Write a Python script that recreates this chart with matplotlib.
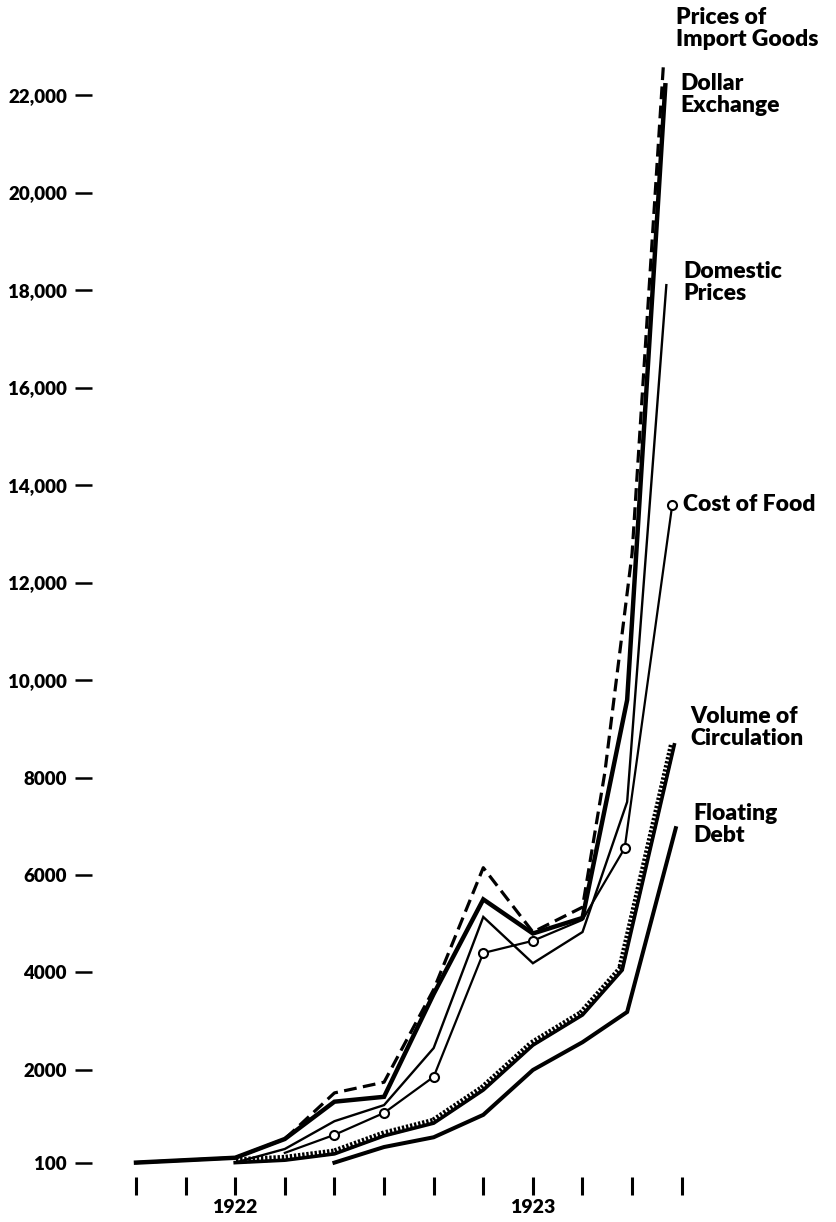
import matplotlib
matplotlib.use('Agg')
import matplotlib.pyplot as plt
import matplotlib.patheffects as pe

plt.rcParams['font.family'] = ['Lato', 'DejaVu Sans']

# positions des mois (0 = janvier 1922 ... ), valeurs indices
tick_pos = list(range(12))
tick_labels = ['', '', '1922', '', '', '', '', '', '1923', '', '', '']
y_ticks = [100, 2000, 4000, 6000, 8000, 10000, 12000, 14000, 16000, 18000, 20000, 22000]
y_labels = ['100', '2000', '4000', '6000', '8000', '10,000', '12,000', '14,000',
            '16,000', '18,000', '20,000', '22,000']

import_x = [0, 1, 2, 3, 4, 5, 6, 7, 8, 9, 9.45, 10.0, 10.63]
import_v = [100, 150, 200, 585, 1530, 1750, 3650, 6150, 4830, 5340, 8100, 12600, 22600]

dollar_x = [0, 1, 2, 3, 4, 5, 6, 7, 8, 9, 9.9, 10.67]
dollar_v = [100, 150, 200, 585, 1350, 1450, 3560, 5500, 4800, 5120, 9590, 22200]

domestic_x = [2, 3, 4, 5, 6, 7, 8, 9, 9.9, 10.69]
domestic_v = [100, 380, 950, 1280, 2450, 5140, 4190, 4830, 7500, 18100]

food_x = [3, 4, 5, 6, 7, 8, 9, 9.85, 10.81]
food_v = [300, 670, 1120, 1860, 4400, 4650, 5080, 6550, 13600]

volume_x = [2, 3, 4, 5, 6, 7, 8, 9, 9.8, 10.85]
volume_v = [100, 150, 280, 650, 910, 1590, 2510, 3130, 4050, 8670]

debt_x = [4, 5, 6, 7, 8, 9, 9.9, 10.88]
debt_v = [100, 420, 620, 1080, 2000, 2570, 3190, 6960]

fig = plt.figure(figsize=(8.37, 12.22), dpi=100)
ax = fig.add_axes([92/837, 1 - 1177/1222, 1 - 92/837, 1177/1222])
ax.set_xlim(-0.887, 14.13)
ax.set_ylim(-195, 23949)
for s in ax.spines.values(): s.set_visible(False)

# courbes
ax.plot(volume_x, volume_v, color='black', lw=2.6, solid_joinstyle='miter',
        path_effects=[pe.withTickedStroke(angle=90, spacing=3.0, length=1.0, linewidth=1.7)])
ax.plot(debt_x, debt_v, color='black', lw=2.9, solid_joinstyle='miter')
ax.plot(domestic_x, domestic_v, color='black', lw=1.7, solid_joinstyle='miter')
ax.plot(food_x, food_v, color='black', lw=1.6, marker='o', markersize=6.5,
        markerfacecolor='white', markeredgewidth=1.5, markevery=[1, 2, 3, 4, 5, 7, 8])
ax.plot(dollar_x, dollar_v, color='black', lw=3.2, solid_joinstyle='miter')
ax.plot(import_x, import_v, color='black', lw=2.3, dashes=(4, 2))

# axes
ax.set_xticks(tick_pos); ax.set_xticklabels(tick_labels)
ax.set_yticks(y_ticks); ax.set_yticklabels(y_labels)
ax.tick_params(axis='x', length=13, width=2.2, pad=3, labelsize=14)
ax.tick_params(axis='y', length=12, width=1.8, pad=6, labelsize=13.5)
for lab in ax.get_xticklabels() + ax.get_yticklabels(): lab.set_fontweight('heavy')

# étiquettes des séries
lbl = dict(fontsize=16.5, fontweight='heavy', va='top', ha='left', linespacing=1.05)
ax.text(10.89, 23800, 'Prices of\nImport Goods', **lbl)
ax.text(10.97, 22450, 'Dollar\nExchange', **lbl)
ax.text(11.03, 18600, 'Domestic\nPrices', **lbl)
ax.text(11.03, 13590, 'Cost of Food', fontsize=16.5, fontweight='heavy', va='center', ha='left')
ax.text(11.17, 9470, 'Volume of\nCirculation', **lbl)
ax.text(11.23, 7480, 'Floating\nDebt', **lbl)

plt.savefig('out.png', dpi=100)
